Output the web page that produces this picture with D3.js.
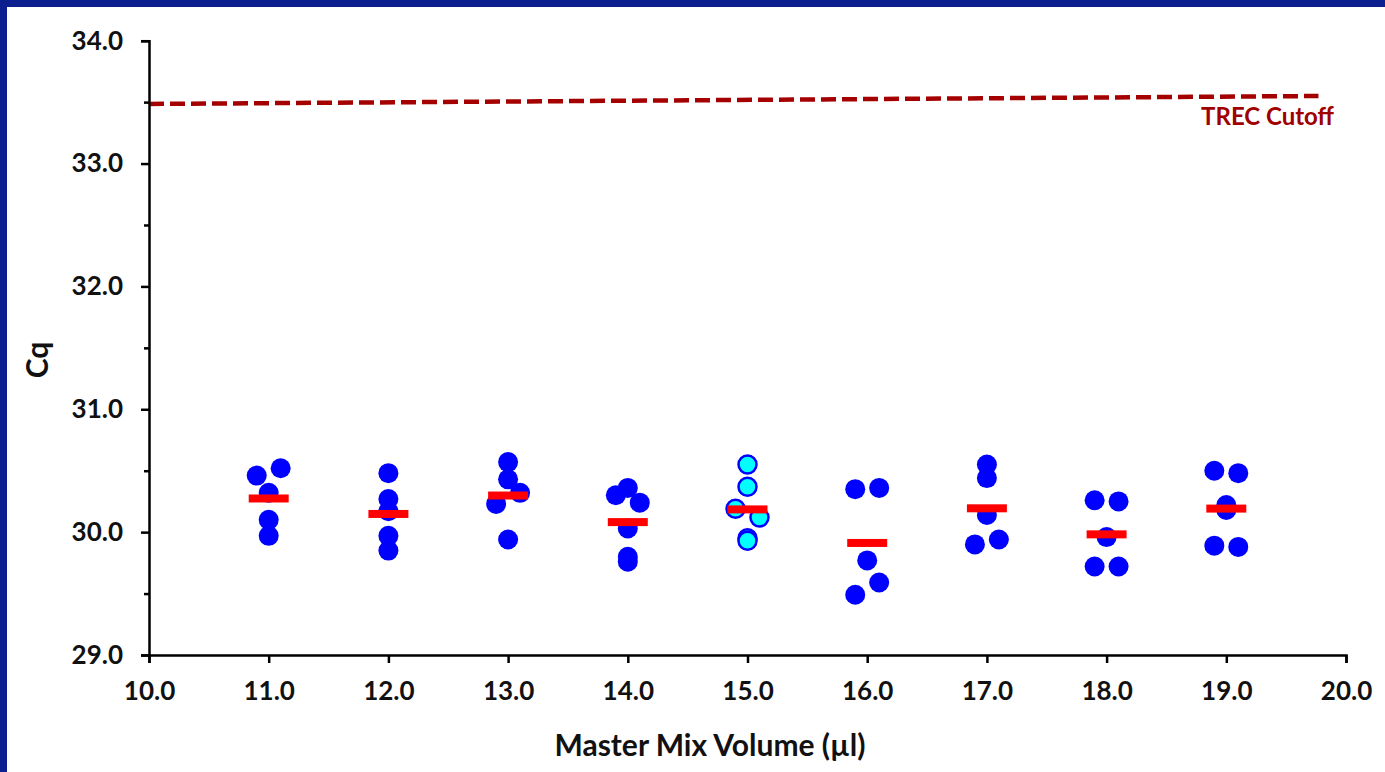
<!DOCTYPE html>
<html>
<head>
<meta charset="utf-8">
<script src="https://cdn.jsdelivr.net/npm/d3@7/dist/d3.min.js"></script>
<style>
  html, body { margin: 0; padding: 0; background: #0b1f8e; }
  svg { display: block; }
  text { font-family: Lato, "Open Sans", sans-serif; font-weight: 700; }
</style>
</head>
<body>
<svg width="1385" height="772"></svg>
<script>
// master mix volumes (x groups)
var volumes = [11, 12, 13, 14, 15, 16, 17, 18, 19];

// Cq replicates per volume
var cqValues = [
  [30.46, 30.52, 30.32, 30.10, 29.97],
  [30.48, 30.27, 30.17, 29.97, 29.85],
  [30.57, 30.43, 30.32, 30.23, 29.94],
  [30.30, 30.36, 30.24, 30.03, 29.80, 29.76],
  [30.55, 30.37, 30.19, 30.12, 29.95, 29.93],
  [30.35, 30.36, 29.77, 29.59, 29.49],
  [30.55, 30.44, 30.14, 29.90, 29.94],
  [30.26, 30.25, 29.96, 29.72, 29.72],
  [30.50, 30.48, 30.22, 30.18, 29.89, 29.88]
];

// horizontal spread of the dots (µl) so they don't overlap
var jitter = [
  [-0.1, 0.1, 0, 0, 0],
  [0, 0, 0, 0, 0],
  [0, 0, 0.1, -0.1, 0],
  [-0.1, 0, 0.1, 0, 0, 0],
  [0, 0, -0.1, 0.1, 0, 0],
  [-0.1, 0.1, 0, 0.1, -0.1],
  [0, 0, 0, -0.1, 0.1],
  [-0.1, 0.1, 0, -0.1, 0.1],
  [-0.1, 0.1, 0, 0, -0.1, 0.1]
];

var highlightVolume = 15;   // drawn as cyan dots

// TREC cutoff line end points
var cutoffX = [10, 19.77];
var cutoffY = [33.485, 33.55];
var cutoffLabel = "TREC Cutoff";

var xTicks = [10, 11, 12, 13, 14, 15, 16, 17, 18, 19, 20];
var yTicks = [29, 30, 31, 32, 33, 34];
var yMinorTicks = [29.5, 30.5, 31.5, 32.5, 33.5];

var svg = d3.select("svg");

// white page inside the blue frame
svg.append("rect")
    .attr("x", 7).attr("y", 7)
    .attr("width", 1385).attr("height", 772)
    .attr("fill", "#fff");

var x = d3.scaleLinear().domain([10, 20]).range([149, 1346]);
var y = d3.scaleLinear().domain([29, 34]).range([655, 40.7]);

// flatten the points
var points = [];
volumes.forEach(function(v, i) {
    cqValues[i].forEach(function(c, j) {
        points.push({ vol: v, x: v + jitter[i][j], cq: c });
    });
});

var means = volumes.map(function(v, i) {
    return { vol: v, cq: d3.mean(cqValues[i]) };
});

// cutoff line
svg.append("line")
    .attr("x1", x(cutoffX[0])).attr("y1", y(cutoffY[0]))
    .attr("x2", x(cutoffX[1])).attr("y2", y(cutoffY[1]))
    .attr("stroke", "#a50000")
    .attr("stroke-width", 4.5)
    .attr("stroke-dasharray", "15,6");

svg.append("text")
    .attr("x", 1334)
    .attr("y", 125)
    .attr("text-anchor", "end")
    .attr("fill", "#a00000")
    .style("font-size", "24px")
    .text(cutoffLabel);

// axes
var yAxis = d3.axisLeft(y).tickValues(yTicks).tickSize(8).tickPadding(18)
    .tickFormat(d3.format(".1f"));
svg.append("g").attr("transform", "translate(" + x(10) + ",0)").call(yAxis);

svg.append("g").attr("transform", "translate(" + x(10) + ",0)")
    .call(d3.axisLeft(y).tickValues(yMinorTicks).tickSize(5).tickFormat(""))
    .select(".domain").remove();

var xAxis = d3.axisBottom(x).tickValues(xTicks).tickSize(8).tickPadding(19)
    .tickFormat(d3.format(".1f"));
svg.append("g").attr("transform", "translate(0," + y(29) + ")").call(xAxis);

svg.selectAll(".domain").attr("stroke", "#000").attr("stroke-width", 2.5);
svg.selectAll(".tick line").attr("stroke", "#000").attr("stroke-width", 2.5);
svg.selectAll(".tick text").attr("fill", "#111")
    .style("font-size", "26px").style("font-family", "Lato, sans-serif").style("font-weight", 700);

// dots
svg.append("g")
    .selectAll("circle")
    .data(points)
    .enter().append("circle")
    .attr("cx", function(d) { return x(d.x); })
    .attr("cy", function(d) { return y(d.cq); })
    .attr("r", function(d) { return d.vol === highlightVolume ? 9 : 10; })
    .attr("fill", function(d) { return d.vol === highlightVolume ? "#00ffff" : "#0000ff"; })
    .attr("stroke", function(d) { return d.vol === highlightVolume ? "#0000ff" : "none"; })
    .attr("stroke-width", 2.5);

// mean bars
svg.append("g")
    .selectAll("rect")
    .data(means)
    .enter().append("rect")
    .attr("x", function(d) { return x(d.vol - 0.167); })
    .attr("y", function(d) { return y(d.cq) - 4; })
    .attr("width", function(d) { return x(d.vol + 0.167) - x(d.vol - 0.167); })
    .attr("height", 8)
    .attr("fill", "#ff0000");

// axis titles
svg.append("text")
    .attr("x", 710)
    .attr("y", 756)
    .attr("text-anchor", "middle")
    .attr("fill", "#111")
    .style("font-size", "30px")
    .text("Master Mix Volume (µl)");

svg.append("text")
    .attr("transform", "translate(48,360) rotate(-90)")
    .attr("text-anchor", "middle")
    .attr("fill", "#111")
    .style("font-size", "30px")
    .text("Cq");
</script>
</body>
</html>
